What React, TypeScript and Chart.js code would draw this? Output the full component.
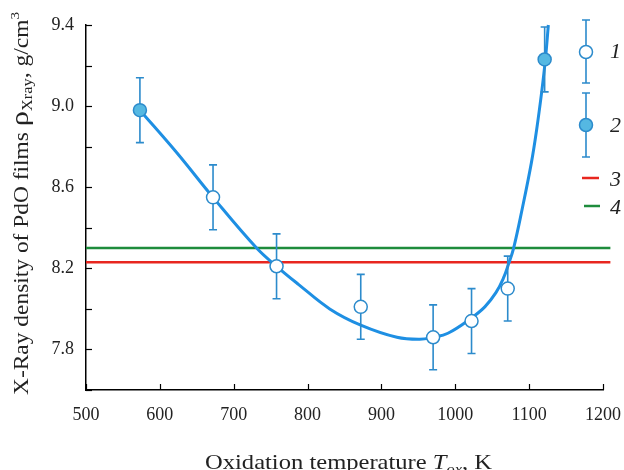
import React, { useEffect, useRef } from "react";
import { Chart, registerables } from "chart.js";

Chart.register(...registerables);

// Measured points (oxidation temperature, K) and X-ray density (g/cm3)
const tempK = [573, 672, 758, 872, 970, 1022, 1071, 1121];
const density = [8.98, 8.55, 8.21, 8.01, 7.86, 7.94, 8.1, 9.23];
const errBar = [0.16, 0.16, 0.16, 0.16, 0.16, 0.16, 0.16, 0.16];
const seriesNo = [2, 1, 1, 1, 1, 1, 1, 2];

// Fitted curve
const curveX = [573, 623, 672, 731, 758, 788, 830, 872, 921, 952, 970, 990, 1020, 1040, 1055, 1065, 1072, 1079, 1091, 1103, 1110, 1117, 1122, 1126];
const curveY = [8.98, 8.77, 8.55, 8.3, 8.21, 8.12, 8.0, 7.92, 7.86, 7.85, 7.86, 7.88, 7.95, 8.01, 8.08, 8.15, 8.22, 8.3, 8.5, 8.72, 8.88, 9.07, 9.23, 9.4];

// Reference levels
const level3 = 8.23;
const level4 = 8.3;
const levelSpan = [500, 1210];

const xTicks = [500, 600, 700, 800, 900, 1000, 1100, 1200];
const yMin = 7.6;
const yMax = 9.4;

const BLUE = "#1e8fe3";
const MARK = "#2c8bcc";
const FILL2 = "#55b8e2";
const RED = "#e8261f";
const GREEN = "#1e8c3c";
const SERIF = "'Liberation Serif', 'DejaVu Serif', serif";

function drawErr(ctx: CanvasRenderingContext2D, x: number, y1: number, y2: number) {
  ctx.beginPath();
  ctx.moveTo(x, y1);
  ctx.lineTo(x, y2);
  ctx.moveTo(x - 4, y1);
  ctx.lineTo(x + 4, y1);
  ctx.moveTo(x - 4, y2);
  ctx.lineTo(x + 4, y2);
  ctx.stroke();
}

type Part = { t: string; f: string; dy: number };

function drawParts(ctx: CanvasRenderingContext2D, parts: Part[], x0: number, y0: number, targetLen: number) {
  let total = 0;
  parts.forEach((p) => {
    ctx.font = p.f;
    total += ctx.measureText(p.t).width;
  });
  const s = targetLen / total;
  ctx.save();
  ctx.translate(x0, y0);
  ctx.scale(s, 1);
  let cx = 0;
  ctx.textBaseline = "alphabetic";
  ctx.textAlign = "left";
  ctx.fillStyle = "#222";
  parts.forEach((p) => {
    ctx.font = p.f;
    ctx.fillText(p.t, cx, p.dy);
    cx += ctx.measureText(p.t).width;
  });
  ctx.restore();
}

const errorBarPlugin = {
  id: "errorBars",
  beforeDatasetDraw(chart: any, args: any) {
    if (args.index !== 0) return;
    const { ctx, scales } = chart;
    ctx.save();
    ctx.strokeStyle = MARK;
    ctx.lineWidth = 1.6;
    tempK.forEach((t, i) => {
      const x = scales.x.getPixelForValue(t);
      const y1 = scales.y.getPixelForValue(density[i] + errBar[i]);
      const y2 = scales.y.getPixelForValue(density[i] - errBar[i]);
      drawErr(ctx, x, y1, y2);
    });
    ctx.restore();
  },
};

const decorPlugin = {
  id: "decor",
  afterDraw(chart: any) {
    const { ctx, chartArea, scales } = chart;
    ctx.save();
    // inward ticks
    ctx.strokeStyle = "#000";
    ctx.lineWidth = 1.2;
    for (let v = 0; v <= 9; v++) {
      const val = yMin + v * 0.2;
      const y = Math.round(scales.y.getPixelForValue(val)) + 0.5;
      ctx.beginPath();
      ctx.moveTo(chartArea.left, y);
      ctx.lineTo(chartArea.left + 6, y);
      ctx.stroke();
    }
    xTicks.forEach((t) => {
      const x = Math.round(scales.x.getPixelForValue(t)) + 0.5;
      ctx.beginPath();
      ctx.moveTo(x, chartArea.bottom);
      ctx.lineTo(x, chartArea.bottom - 6);
      ctx.stroke();
    });

    // legend
    const lx = 586;
    ctx.strokeStyle = MARK;
    ctx.lineWidth = 1.6;
    drawErr(ctx, lx, 20, 83);
    drawErr(ctx, lx, 93, 157);
    ctx.lineWidth = 1.5;
    ctx.beginPath();
    ctx.arc(lx, 52, 6.5, 0, Math.PI * 2);
    ctx.fillStyle = "#fff";
    ctx.fill();
    ctx.stroke();
    ctx.beginPath();
    ctx.arc(lx, 125, 6.5, 0, Math.PI * 2);
    ctx.fillStyle = FILL2;
    ctx.fill();
    ctx.stroke();
    ctx.lineWidth = 2.5;
    ctx.strokeStyle = RED;
    ctx.beginPath();
    ctx.moveTo(582, 178);
    ctx.lineTo(599, 178);
    ctx.stroke();
    ctx.strokeStyle = GREEN;
    ctx.beginPath();
    ctx.moveTo(584, 206);
    ctx.lineTo(600, 206);
    ctx.stroke();
    ctx.fillStyle = "#222";
    ctx.font = `italic 22px ${SERIF}`;
    ctx.textBaseline = "middle";
    ctx.textAlign = "left";
    ctx.fillText("1", 610, 52);
    ctx.fillText("2", 610, 126);
    ctx.fillText("3", 610, 180);
    ctx.fillText("4", 610, 208);

    // y-axis title (rotated)
    ctx.save();
    ctx.translate(28, 395);
    ctx.rotate(-Math.PI / 2);
    drawParts(
      ctx,
      [
        { t: "X-Ray density of PdO films ", f: `20px ${SERIF}`, dy: 0 },
        { t: "ρ", f: `26px ${SERIF}`, dy: 0 },
        { t: "Xray", f: `14px ${SERIF}`, dy: 4 },
        { t: ", g/cm", f: `20px ${SERIF}`, dy: 0 },
        { t: "3", f: `13px ${SERIF}`, dy: -9 },
      ],
      0,
      0,
      383
    );
    ctx.restore();

    // x-axis title
    drawParts(
      ctx,
      [
        { t: "Oxidation temperature ", f: `21px ${SERIF}`, dy: 0 },
        { t: "T", f: `italic 21px ${SERIF}`, dy: 0 },
        { t: "ox", f: `italic 14px ${SERIF}`, dy: 5 },
        { t: ", K", f: `21px ${SERIF}`, dy: 0 },
      ],
      205,
      469,
      287
    );
    ctx.restore();
  },
};

export default function App() {
  const ref = useRef<HTMLCanvasElement>(null);
  useEffect(() => {
    if (!ref.current) return;
    const pts = tempK.map((t, i) => ({ x: t, y: density[i] }));
    const curve = curveX.map((t, i) => ({ x: t, y: curveY[i] }));
    const chart = new Chart(ref.current, {
      type: "scatter",
      data: {
        datasets: [
          {
            label: "points",
            data: pts,
            pointRadius: 6.5,
            pointHoverRadius: 6.5,
            pointBorderWidth: 1.5,
            pointBorderColor: MARK,
            pointBackgroundColor: seriesNo.map((s) => (s === 2 ? FILL2 : "#ffffff")),
            showLine: false,
          } as any,
          {
            type: "line",
            label: "fit",
            data: curve,
            borderColor: BLUE,
            borderWidth: 3,
            pointRadius: 0,
            tension: 0.4,
            fill: false,
            clip: false,
          } as any,
          {
            type: "line",
            label: "4",
            data: levelSpan.map((x) => ({ x, y: level4 })),
            borderColor: GREEN,
            borderWidth: 2.5,
            pointRadius: 0,
            clip: false,
          } as any,
          {
            type: "line",
            label: "3",
            data: levelSpan.map((x) => ({ x, y: level3 })),
            borderColor: RED,
            borderWidth: 2.5,
            pointRadius: 0,
            clip: false,
          } as any,
        ],
      },
      options: {
        animation: false,
        responsive: false,
        layout: { padding: { top: 25, right: 21, left: 0, bottom: 0 } },
        plugins: { legend: { display: false }, tooltip: { enabled: false } },
        scales: {
          x: {
            type: "linear",
            min: 500,
            max: 1200,
            afterFit: (s: any) => {
              s.height = 80;
              s.paddingLeft = 0;
              s.paddingRight = 0;
            },
            afterBuildTicks: (s: any) => {
              s.ticks = xTicks.map((v) => ({ value: v }));
            },
            grid: { display: false, drawTicks: false },
            border: { display: true, color: "#000", width: 1.5 },
            ticks: {
              padding: 14,
              color: "#222",
              font: { family: SERIF, size: 18 },
              maxRotation: 0,
              callback: (v: any) => String(v),
            },
          },
          y: {
            type: "linear",
            min: yMin,
            max: yMax,
            afterFit: (s: any) => {
              s.width = 86;
              s.paddingTop = 0;
              s.paddingBottom = 0;
            },
            grid: { display: false, drawTicks: false },
            border: { display: true, color: "#000", width: 1.5 },
            ticks: {
              stepSize: 0.2,
              padding: 12,
              color: "#222",
              font: { family: SERIF, size: 18 },
              callback: (v: any) => {
                const n = Math.round(Number(v) * 10);
                return n % 4 === 2 ? (n / 10).toFixed(1) : "";
              },
            },
          },
        },
      },
      plugins: [errorBarPlugin, decorPlugin],
    });
    return () => chart.destroy();
  }, []);
  return (
    <div style={{ position: "absolute", left: 0, top: 0, width: 624, height: 470, background: "#fff" }}>
      <canvas ref={ref} width={624} height={470} style={{ display: "block", width: 624, height: 470 }} />
    </div>
  );
}
